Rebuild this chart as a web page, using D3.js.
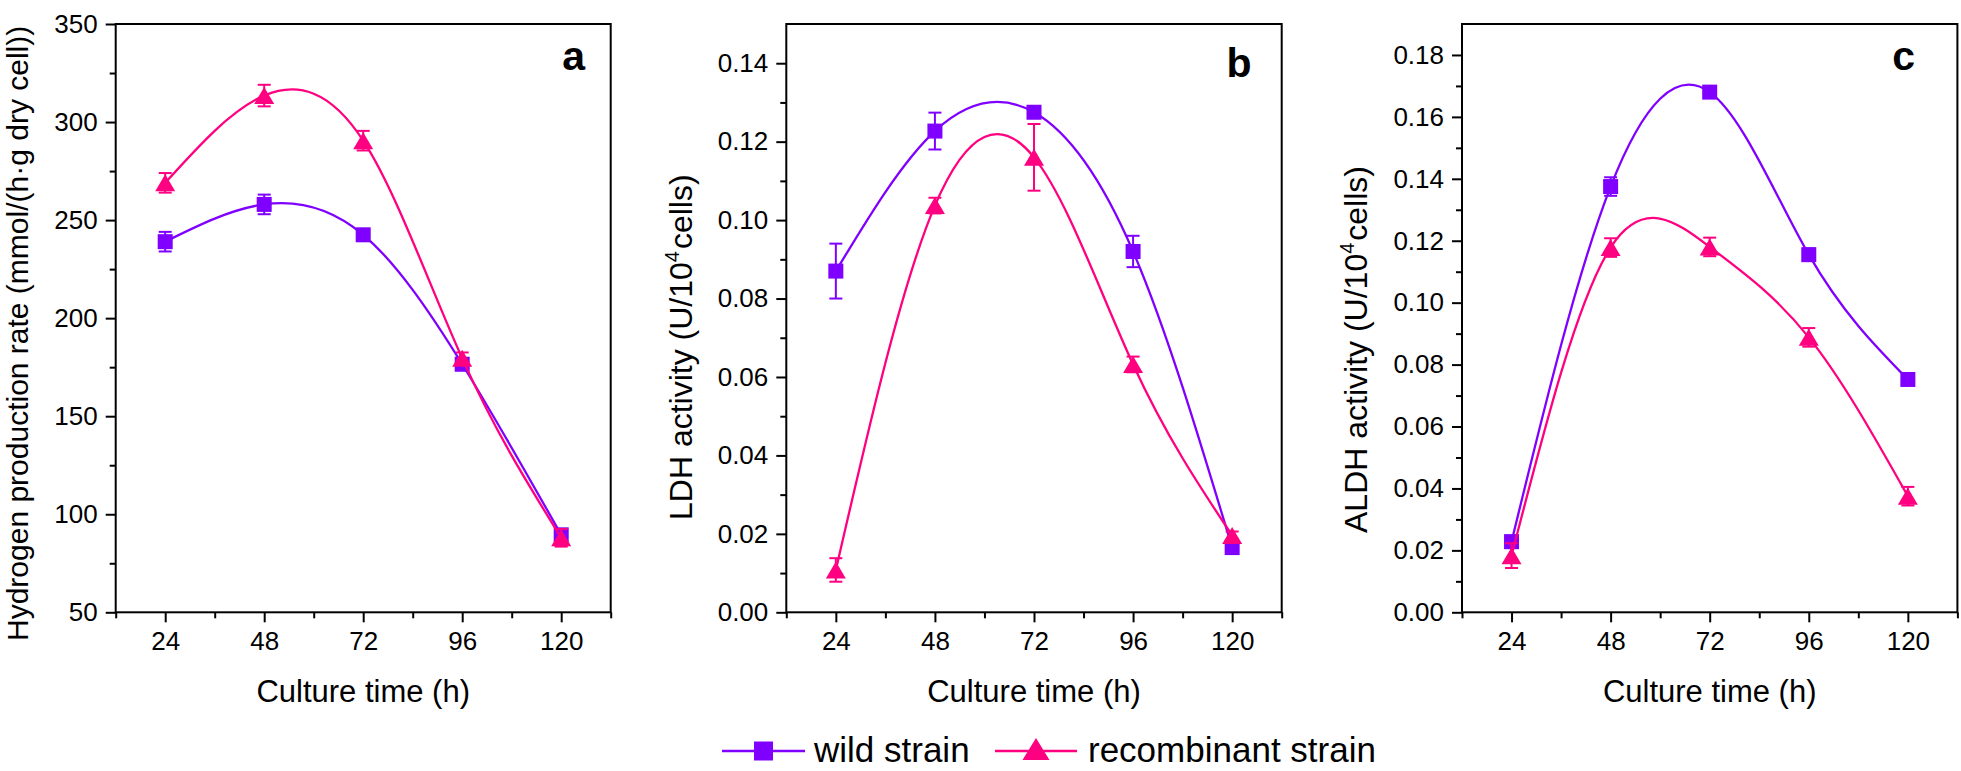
<!DOCTYPE html>
<html>
<head>
<meta charset="utf-8">
<script src="https://cdn.jsdelivr.net/npm/d3@7"></script>
<style>
  html, body { margin: 0; padding: 0; background: #fff; }
  svg { display: block; font-family: "Liberation Sans", Arial, Helvetica, sans-serif; }
</style>
</head>
<body>
<svg id="chart" width="1961" height="771"></svg>
<script>
// ---------------- data ----------------
const hours = [24, 48, 72, 96, 120];
const xMajorTicks = [24, 48, 72, 96, 120];
const xMinorTicks = [12, 36, 60, 84, 108, 132];

// Panel a: hydrogen production rate
const h2Wild = [239, 258, 242.5, 176.5, 89.5];
const h2WildErr = [5, 5, 2, 3, 2];
const h2Rec = [269, 313.5, 290.5, 179.5, 88];
const h2RecErr = [5, 5.5, 5, 3, 4.5];
const h2Ticks = [50, 100, 150, 200, 250, 300, 350];
const h2Minor = [75, 125, 175, 225, 275, 325];

// Panel b: LDH activity
const ldhWild = [0.087, 0.1227, 0.1275, 0.092, 0.0165];
const ldhWildErr = [0.007, 0.0047, 0.001, 0.004, 0.001];
const ldhRec = [0.0108, 0.1037, 0.116, 0.0632, 0.0196];
const ldhRecErr = [0.003, 0.002, 0.0085, 0.002, 0.001];
const ldhTicks = [0, 0.02, 0.04, 0.06, 0.08, 0.10, 0.12, 0.14];
const ldhMinor = [0.01, 0.03, 0.05, 0.07, 0.09, 0.11, 0.13];

// Panel c: ALDH activity
const aldhWild = [0.0228, 0.1375, 0.168, 0.1155, 0.0752];
const aldhWildErr = [0.002, 0.003, 0.001, 0.002, 0.001];
const aldhRec = [0.0183, 0.1178, 0.118, 0.0888, 0.0375];
const aldhRecErr = [0.004, 0.003, 0.003, 0.003, 0.003];
const aldhTicks = [0, 0.02, 0.04, 0.06, 0.08, 0.10, 0.12, 0.14, 0.16, 0.18];
const aldhMinor = [0.01, 0.03, 0.05, 0.07, 0.09, 0.11, 0.13, 0.15, 0.17];

const seriesNames = ["wild strain", "recombinant strain"];
const colors = ["#8000ff", "#ff0080"];

// ---------------- layout ----------------
const TOP = 24, BOTTOM = 612.3;
const panels = [
  { x0: 115.7, x1: 610.7, domain: [50, 350], ticks: h2Ticks, minor: h2Minor, fmt: d3.format("d"),
    wild: h2Wild, wildErr: h2WildErr, rec: h2Rec, recErr: h2RecErr,
    label: "a", labelX: 585, labelY: 70,
    title: ["Hydrogen production rate (mmol/(h\u00b7g dry cell))"], titleX: 28, titleY: 641, titleSize: 30 },
  { x0: 786.3, x1: 1281.7, domain: [0, 0.15], ticks: ldhTicks, minor: ldhMinor, fmt: d3.format(".2f"),
    wild: ldhWild, wildErr: ldhWildErr, rec: ldhRec, recErr: ldhRecErr,
    label: "b", labelX: 1251.5, labelY: 77,
    title: ["LDH activity (U/10", "4", "cells)"], titleX: 691.5, titleY: 520, titleSize: 32 },
  { x0: 1462, x1: 1957.4, domain: [0, 0.19], ticks: aldhTicks, minor: aldhMinor, fmt: d3.format(".2f"),
    wild: aldhWild, wildErr: aldhWildErr, rec: aldhRec, recErr: aldhRecErr,
    label: "c", labelX: 1915, labelY: 70,
    title: ["ALDH activity (U/10", "4", "cells)"], titleX: 1367, titleY: 533, titleSize: 32 }
];

const svg = d3.select("#chart");

function triPath(w, h) {
  return `M0,${-h/2}L${w/2},${h/2}L${-w/2},${h/2}Z`;
}

panels.forEach(p => {
  const x = d3.scaleLinear().domain([12, 132]).range([p.x0, p.x1]);
  const y = d3.scaleLinear().domain(p.domain).range([BOTTOM, TOP]);
  const g = svg.append("g");

  // frame
  g.append("rect")
    .attr("x", p.x0).attr("y", TOP)
    .attr("width", p.x1 - p.x0).attr("height", BOTTOM - TOP)
    .attr("fill", "none").attr("stroke", "#000").attr("stroke-width", 2);

  // x axis
  const xAxis = g.append("g").attr("transform", `translate(0,${BOTTOM})`)
    .call(d3.axisBottom(x).tickValues(xMajorTicks).tickSize(10).tickPadding(9).tickFormat(d3.format("d")));
  xAxis.select(".domain").remove();
  xAxis.selectAll("line").attr("stroke", "#000").attr("stroke-width", 2);
  xAxis.selectAll("text").attr("font-size", 26).attr("fill", "#000")
    .attr("font-family", "Liberation Sans, Arial, sans-serif");
  const xMinorAxis = g.append("g").attr("transform", `translate(0,${BOTTOM})`)
    .call(d3.axisBottom(x).tickValues(xMinorTicks).tickSize(6).tickFormat(""));
  xMinorAxis.select(".domain").remove();
  xMinorAxis.selectAll("line").attr("stroke", "#000").attr("stroke-width", 2);

  // y axis
  const yAxis = g.append("g").attr("transform", `translate(${p.x0},0)`)
    .call(d3.axisLeft(y).tickValues(p.ticks).tickSize(10).tickPadding(8).tickFormat(p.fmt));
  yAxis.select(".domain").remove();
  yAxis.selectAll("line").attr("stroke", "#000").attr("stroke-width", 2);
  yAxis.selectAll("text").attr("font-size", 26).attr("fill", "#000")
    .attr("font-family", "Liberation Sans, Arial, sans-serif");
  const yMinorAxis = g.append("g").attr("transform", `translate(${p.x0},0)`)
    .call(d3.axisLeft(y).tickValues(p.minor).tickSize(6).tickFormat(""));
  yMinorAxis.select(".domain").remove();
  yMinorAxis.selectAll("line").attr("stroke", "#000").attr("stroke-width", 2);

  // x title
  g.append("text")
    .attr("x", (p.x0 + p.x1) / 2).attr("y", 701.5)
    .attr("text-anchor", "middle").attr("font-size", 31).attr("fill", "#000")
    .text("Culture time (h)");

  // y title
  const yt = g.append("text")
    .attr("transform", `translate(${p.titleX},${p.titleY}) rotate(-90)`)
    .attr("text-anchor", "start").attr("font-size", p.titleSize).attr("fill", "#000");
  yt.append("tspan").text(p.title[0]);
  if (p.title.length > 1) {
    yt.append("tspan").attr("font-size", 20).attr("dy", -13).text(p.title[1]);
    yt.append("tspan").attr("dy", 13).attr("dx", 2).text(p.title[2]);
  }

  // panel label
  g.append("text")
    .attr("x", p.labelX).attr("y", p.labelY)
    .attr("text-anchor", "end").attr("font-size", 41).attr("font-weight", "bold").attr("fill", "#000")
    .text(p.label);

  // series
  const series = [
    { vals: p.wild, errs: p.wildErr, color: colors[0], shape: "square" },
    { vals: p.rec, errs: p.recErr, color: colors[1], shape: "triangle" }
  ];
  const line = d3.line().x(d => x(d.h)).y(d => y(d.v)).curve(d3.curveNatural);

  series.forEach(s => {
    const pts = hours.map((h, i) => ({ h, v: s.vals[i], e: s.errs[i] }));
    const sg = g.append("g");
    sg.append("path").datum(pts).attr("d", line)
      .attr("fill", "none").attr("stroke", s.color).attr("stroke-width", 2.3);

    // error bars
    const eb = sg.selectAll(".eb").data(pts).enter().append("g");
    eb.append("line")
      .attr("x1", d => x(d.h)).attr("x2", d => x(d.h))
      .attr("y1", d => y(d.v + d.e)).attr("y2", d => y(d.v - d.e))
      .attr("stroke", s.color).attr("stroke-width", 2);
    eb.append("line")
      .attr("x1", d => x(d.h) - 6.5).attr("x2", d => x(d.h) + 6.5)
      .attr("y1", d => y(d.v + d.e)).attr("y2", d => y(d.v + d.e))
      .attr("stroke", s.color).attr("stroke-width", 2);
    eb.append("line")
      .attr("x1", d => x(d.h) - 6.5).attr("x2", d => x(d.h) + 6.5)
      .attr("y1", d => y(d.v - d.e)).attr("y2", d => y(d.v - d.e))
      .attr("stroke", s.color).attr("stroke-width", 2);

    // markers
    if (s.shape === "square") {
      sg.selectAll(".mk").data(pts).enter().append("rect")
        .attr("x", d => x(d.h) - 7.5).attr("y", d => y(d.v) - 7.5)
        .attr("width", 15).attr("height", 15).attr("fill", s.color);
    } else {
      sg.selectAll(".mk").data(pts).enter().append("path")
        .attr("transform", d => `translate(${x(d.h)},${y(d.v)})`)
        .attr("d", triPath(20, 17)).attr("fill", s.color);
    }
  });
});

// ---------------- legend ----------------
const legend = svg.append("g");
const legendItems = [
  { name: seriesNames[0], color: colors[0], shape: "square", x1: 722, x2: 805, tx: 814 },
  { name: seriesNames[1], color: colors[1], shape: "triangle", x1: 995, x2: 1077, tx: 1088 }
];
const LY = 751;
legendItems.forEach(it => {
  legend.append("line").attr("x1", it.x1).attr("x2", it.x2).attr("y1", LY).attr("y2", LY)
    .attr("stroke", it.color).attr("stroke-width", 2.3);
  const cx = (it.x1 + it.x2) / 2;
  if (it.shape === "square") {
    legend.append("rect").attr("x", cx - 9.5).attr("y", LY - 9.5).attr("width", 19).attr("height", 19)
      .attr("fill", it.color);
  } else {
    legend.append("path").attr("transform", `translate(${cx},${LY - 2})`)
      .attr("d", triPath(27, 22)).attr("fill", it.color);
  }
  legend.append("text").attr("x", it.tx).attr("y", 762).attr("font-size", 35).attr("fill", "#000")
    .text(it.name);
});
</script>
</body>
</html>
